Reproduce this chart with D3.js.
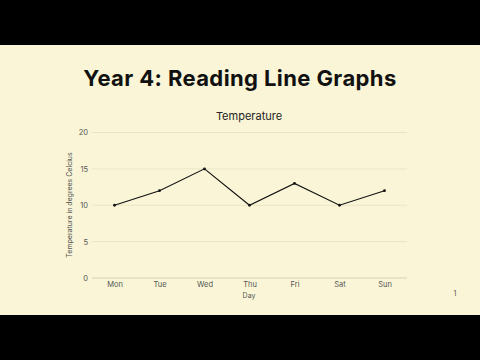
<!DOCTYPE html>
<html>
<head>
<meta charset="utf-8">
<script src="https://cdn.jsdelivr.net/npm/d3@7"></script>
<style>
  html, body { margin: 0; padding: 0; background: #000; }
  svg { display: block; }
</style>
</head>
<body>
<svg id="chart" width="480" height="360"></svg>
<script>
const days = ["Mon", "Tue", "Wed", "Thu", "Fri", "Sat", "Sun"];
const temps = [10, 12, 15, 10, 13, 10, 12];
const yTicks = [0, 5, 10, 15, 20];

const svg = d3.select("#chart");

// slide background between the black letterbox bars
svg.append("rect").attr("x", 0).attr("y", 45).attr("width", 480).attr("height", 270).attr("fill", "#f9f5d6");

svg.append("text")
  .attr("x", 240).attr("y", 86)
  .attr("text-anchor", "middle")
  .attr("font-family", "Inter, sans-serif")
  .attr("font-weight", "bold")
  .attr("font-size", 22)
  .attr("letter-spacing", 0.4)
  .attr("fill", "#111")
  .text("Year 4: Reading Line Graphs");

svg.append("text")
  .attr("x", 249).attr("y", 120)
  .attr("text-anchor", "middle")
  .attr("font-family", "Inter, sans-serif")
  .attr("font-size", 11)
  .attr("fill", "#222")
  .text("Temperature");

const x = d3.scalePoint().domain(days).range([92, 407]).padding(0.5);
const y = d3.scaleLinear().domain([0, 20]).range([278, 132.5]);

// grid lines
svg.append("g")
  .selectAll("line")
  .data(yTicks)
  .join("line")
  .attr("x1", 92).attr("x2", 407)
  .attr("y1", d => y(d)).attr("y2", d => y(d))
  .attr("stroke", d => d === 0 ? "#d8d2b4" : "#ebe5c6")
  .attr("stroke-width", 1);

const yAxis = svg.append("g")
  .attr("transform", "translate(88,0)")
  .call(d3.axisLeft(y).tickValues(yTicks).tickSize(0).tickPadding(0));
yAxis.select(".domain").remove();
yAxis.selectAll("text")
  .attr("font-family", "Inter, sans-serif")
  .attr("font-size", 7.5)
  .attr("fill", "#555");

const xAxis = svg.append("g")
  .attr("transform", "translate(0,282)")
  .call(d3.axisBottom(x).tickSize(0).tickPadding(0));
xAxis.select(".domain").remove();
xAxis.selectAll("text")
  .attr("font-family", "Inter, sans-serif")
  .attr("font-size", 7.5)
  .attr("fill", "#555");

svg.append("text")
  .attr("x", 249).attr("y", 298)
  .attr("text-anchor", "middle")
  .attr("font-family", "Inter, sans-serif")
  .attr("font-size", 7)
  .attr("fill", "#555")
  .text("Day");

svg.append("text")
  .attr("transform", "translate(72,205) rotate(-90)")
  .attr("text-anchor", "middle")
  .attr("font-family", "Inter, sans-serif")
  .attr("font-size", 7)
  .attr("fill", "#555")
  .text("Temperature in degrees Celcius");

const line = d3.line()
  .x((d, i) => x(days[i]))
  .y(d => y(d));

svg.append("path")
  .datum(temps)
  .attr("d", line)
  .attr("fill", "none")
  .attr("stroke", "#111")
  .attr("stroke-width", 1.1);

svg.append("g")
  .selectAll("circle")
  .data(temps)
  .join("circle")
  .attr("cx", (d, i) => x(days[i]))
  .attr("cy", d => y(d))
  .attr("r", 1.4)
  .attr("fill", "#111");

svg.append("text")
  .attr("x", 455).attr("y", 296)
  .attr("text-anchor", "middle")
  .attr("font-family", "Inter, sans-serif")
  .attr("font-size", 7)
  .attr("fill", "#555")
  .text("1");

// black letterbox bars
svg.append("rect").attr("x", 0).attr("y", 0).attr("width", 480).attr("height", 45).attr("fill", "#000");
svg.append("rect").attr("x", 0).attr("y", 315).attr("width", 480).attr("height", 45).attr("fill", "#000");
</script>
</body>
</html>
